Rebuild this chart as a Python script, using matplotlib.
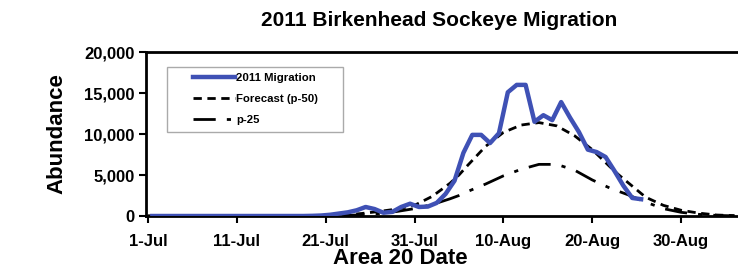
import datetime as dt
import matplotlib
matplotlib.use("Agg")
import matplotlib.pyplot as plt
import matplotlib.ticker as mticker
from matplotlib.patches import Rectangle

plt.rcParams["font.family"] = ["Liberation Sans", "DejaVu Sans"]
plt.rcParams["font.weight"] = "bold"

start = dt.date(2011, 7, 1)

# observed daily abundance, day 0 = 1-Jul
migration_days = list(range(0, 56))
migration = [0, 0, 0, 0, 0, 0, 0, 0, 0, 0,
             0, 0, 0, 0, 0, 0, 0, 0, 20, 60,
             150, 300, 450, 700, 1100, 850, 400, 500, 1100, 1500,
             1100, 1150, 1600, 2700, 4300, 7700, 9900, 9900, 8900, 10100,
             15100, 16000, 16000, 11500, 12300, 11700, 13900, 12000, 10250, 8100,
             7800, 7200, 5500, 3700, 2200, 2050]

# forecast curves
forecast_days = [0, 16, 20, 22, 24, 26, 28, 30, 32, 34, 35, 36, 38, 40, 42, 44,
                 46, 48, 50, 52, 53, 54, 56, 58, 60, 62, 64, 66]
p50 = [0, 0, 50, 120, 300, 550, 850, 1300, 2400, 4000, 5000, 6200, 8500, 10200,
       11100, 11400, 11000, 9800, 8100, 6000, 5000, 4100, 2300, 1300, 700, 350, 120, 40]
p25 = [0, 0, 20, 50, 150, 300, 550, 900, 1400, 2100, 2500, 3000, 3900, 4900,
       5700, 6300, 6300, 5600, 4400, 3400, 3000, 2600, 1700, 900, 450, 200, 70, 20]

tick_days = [0, 10, 20, 30, 40, 50, 60]
tick_labels = [(start + dt.timedelta(days=d)).strftime("%-d-%b") for d in tick_days]

fig = plt.figure(figsize=(7.38, 2.70), dpi=100)
ax = fig.add_axes([0.198, 0.2, 0.802, 0.607])

ax.plot([d + 0.5 for d in migration_days], migration, color="#3f51b5", lw=3.2,
        label="2011 Migration", zorder=3)
ax.plot(forecast_days, p50, color="black", lw=2, ls=(0, (3, 2)), label="Forecast (p-50)")
ax.plot(forecast_days, p25, color="black", lw=2, ls=(0, (8, 4, 1.5, 4)), label="p-25")

ax.set_xlim(-0.2, 66.4)
ax.set_ylim(0, 20000)
ax.set_xticks(tick_days)
ax.set_xticklabels(tick_labels)
ax.set_yticks([0, 5000, 10000, 15000, 20000])
ax.yaxis.set_major_formatter(mticker.FuncFormatter(lambda v, p: f"{int(v):,}"))
ax.tick_params(labelsize=12, width=1.5, length=5, direction="out")
ax.tick_params(axis="x", pad=8)

for side in ["left", "bottom", "top"]:
    ax.spines[side].set_linewidth(2)
ax.spines["right"].set_visible(False)

ax.set_ylabel("Abundance", fontsize=16, fontweight="bold", labelpad=12)
fig.text(0.543, 0.044, "Area 20 Date", fontsize=16, fontweight="bold",
         ha="center", va="center")
fig.text(0.595, 0.925, "2011 Birkenhead Sockeye Migration", fontsize=15,
         fontweight="bold", ha="center", va="center")

# legend box drawn separately: wide side margins, tight top/bottom
box = Rectangle((167 / 738, 1 - 132 / 270), 176 / 738, 65 / 270,
                transform=fig.transFigure, facecolor="white",
                edgecolor="#aaaaaa", lw=1, zorder=5, clip_on=False)
ax.add_patch(box)
leg = ax.legend(loc="upper left", bbox_to_anchor=(193 / 738, 1 - 73 / 270),
                bbox_transform=fig.transFigure, fontsize=8.2, frameon=False,
                handlelength=3.7, handletextpad=0.1, borderpad=0, borderaxespad=0,
                labelspacing=0.95)
leg.set_zorder(6)

fig.savefig("out.png", dpi=100)
